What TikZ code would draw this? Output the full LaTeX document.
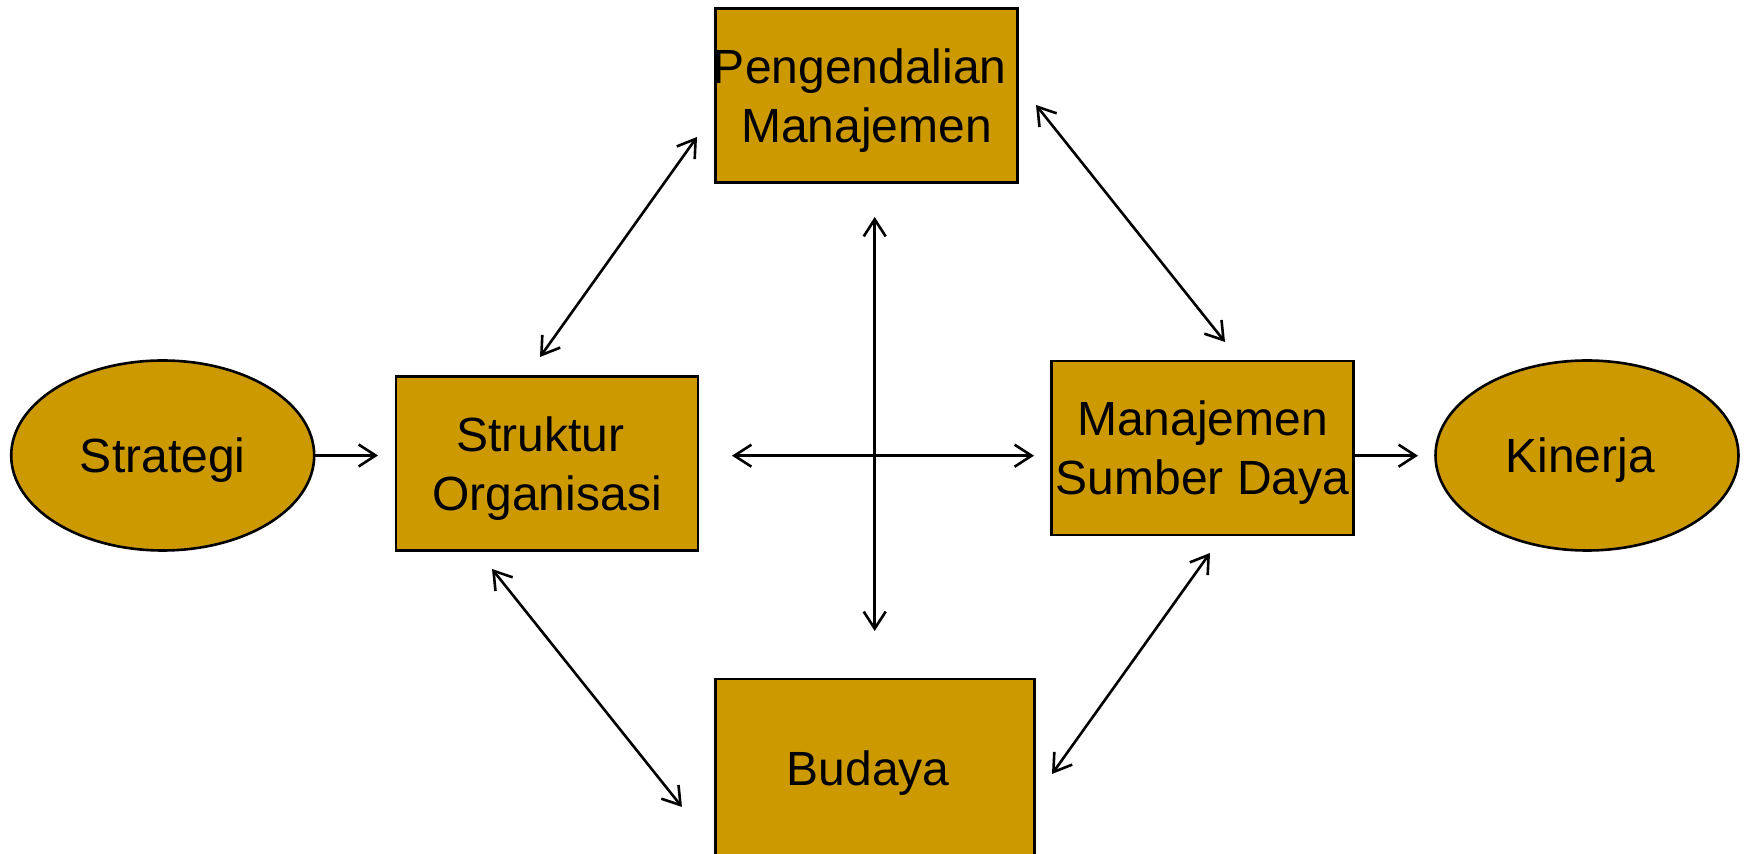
\documentclass[tikz,border=0pt]{standalone}
\usepackage{fontspec}
\setmainfont{Liberation Sans}
\usetikzlibrary{arrows.meta,shapes.geometric}
\definecolor{gold}{RGB}{204,153,0}
\begin{document}
\begin{tikzpicture}[x=0.5pt,y=-0.5pt,
  shapebase/.style={draw=black,fill=gold,line width=1.3pt,inner sep=0pt,outer sep=0pt},
  box/.style={shapebase,rectangle,minimum width=151pt,minimum height=87pt},
  widebox/.style={box,minimum width=159.5pt,minimum height=92pt},
  oval/.style={shapebase,ellipse,minimum width=151.5pt,minimum height=95pt},
  txt/.style={font=\fontsize{24pt}{29.5pt}\selectfont,align=center,yshift=-2.5pt,inner sep=0pt},
  tipbarb/.tip={Straight Barb[length=8.5pt,width=11pt,line width=1.3pt]},
  sarr/.style={line width=1.3pt,-tipbarb},
  darr/.style={line width=1.3pt,tipbarb-tipbarb}]
\useasboundingbox (0,0) rectangle (1747,854);

\node[oval] (strat) at (162.7,455.5) {};
\node[txt,name=strat-t] at (strat.center) {Strategi};
\node[box] (struk) at (547,463.5) {};
\node[txt,name=struk-t] at (struk.center) {Struktur\hspace*{0.28em}\\Organisasi};
\node[box] (peng) at (866.5,95.5) {};
\node[txt,name=peng-t] at (peng.center) {Pengendalian\hspace*{0.28em}\\Manajemen};
\node[box] (msd) at (1202.5,448) {};
\node[txt,name=msd-t] at (msd.center) {Manajemen\\Sumber Daya};
\node[oval] (kin) at (1587,455.5) {};
\node[txt,name=kin-t] at (kin.center) {Kinerja\hspace*{0.28em}};
\node[widebox] (bud) at (875,771) {};
\node[txt,name=bud-t,yshift=1.5pt] at (bud.center) {Budaya\hspace*{0.28em}};

% arrow end points
\coordinate (ss) at (378,455.5);
\coordinate (mk) at (1418,455.7);
\coordinate (h1) at (732,455.7);
\coordinate (h2) at (1034,455.7);
\coordinate (v1) at (874.7,217);
\coordinate (v2) at (874.7,631);
\coordinate (sp1) at (540,357);
\coordinate (sp2) at (697,137);
\coordinate (pm1) at (1036,105);
\coordinate (pm2) at (1225,342);
\coordinate (sb1) at (492,569);
\coordinate (sb2) at (682,807);
\coordinate (mb1) at (1210,553);
\coordinate (mb2) at (1052,774);

\draw[sarr] (strat.east) -- (ss);
\draw[sarr] (msd.east |- mk) -- (mk);
\draw[darr] (h1) -- (h2);
\draw[darr] (v1) -- (v2);
\draw[darr] (sp1) -- (sp2);
\draw[darr] (pm1) -- (pm2);
\draw[darr] (sb1) -- (sb2);
\draw[darr] (mb1) -- (mb2);
\end{tikzpicture}
\end{document}
